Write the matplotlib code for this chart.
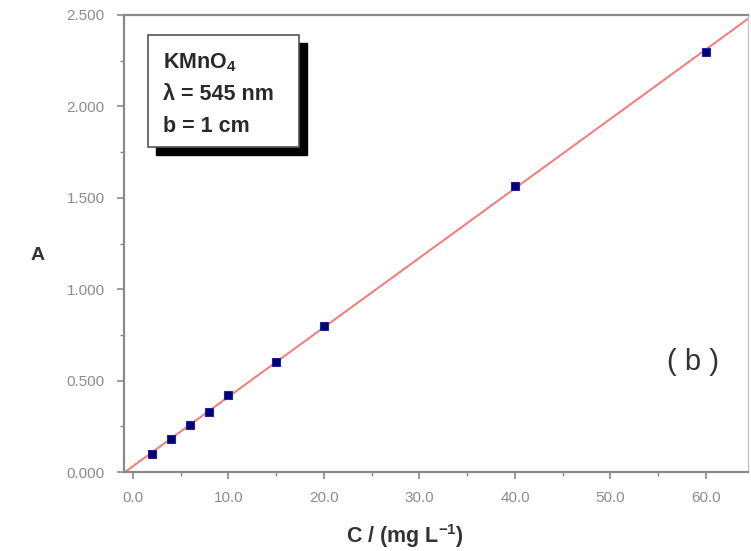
import numpy as np
import matplotlib

matplotlib.use("Agg")
import matplotlib.pyplot as plt
from matplotlib.patches import Rectangle
from matplotlib.ticker import MultipleLocator, FormatStrFormatter

# -----------------------------
# Data (calibration points)
# -----------------------------
conc = [2, 4, 6, 8, 10, 15, 20, 40, 60]
absorb = [0.100, 0.180, 0.257, 0.330, 0.420, 0.603, 0.800, 1.565, 2.300]
box_lines = ["KMnO$_4$", "λ = 545 nm", "b = 1 cm"]

plt.rcParams["font.family"] = ["Liberation Sans", "DejaVu Sans"]
plt.rcParams["mathtext.fontset"] = "custom"
plt.rcParams["mathtext.rm"] = "Liberation Sans:bold"
plt.rcParams["mathtext.bf"] = "Liberation Sans:bold"

W, H = 751, 551
fig = plt.figure(figsize=(W / 100, H / 100), dpi=100)


def px(x, y):
    # pixel position (from top-left) -> figure fraction
    return x / W, 1 - y / H


left, top = px(124, 15)
right, bottom = px(748, 472)
ax = fig.add_axes([left, bottom, right - left, top - bottom])

# -----------------------------
# Linear fit + points
# -----------------------------
slope, icpt = np.polyfit(conc, absorb, 1)
xlim = (-0.94, 64.4)
xs = np.array(xlim)
ax.plot(xs, slope * xs + icpt, color="#f28080", lw=1.5, zorder=2)
ax.plot(conc, absorb, ls="none", marker="s", ms=5.8,
        mfc="#00007a", mec="#2020a0", mew=0.8, zorder=3)

ax.set_xlim(*xlim)
ax.set_ylim(0, 2.5)

ax.xaxis.set_major_locator(MultipleLocator(10))
ax.xaxis.set_minor_locator(MultipleLocator(5))
ax.yaxis.set_major_locator(MultipleLocator(0.5))
ax.yaxis.set_minor_locator(MultipleLocator(0.25))
ax.xaxis.set_major_formatter(FormatStrFormatter("%.1f"))
ax.yaxis.set_major_formatter(FormatStrFormatter("%.3f"))

gray = "#8a8a8a"
for s in ax.spines.values():
    s.set_color(gray)
    s.set_linewidth(1.6)
ax.spines["right"].set_color("#c8c8c8")
ax.spines["right"].set_linewidth(1.0)

ax.tick_params(which="both", direction="out", colors=gray,
               labelcolor="#8c8c8c", labelsize=11)
ax.tick_params(which="major", length=5, width=1.2)
ax.tick_params(axis="x", which="major", pad=9)
ax.tick_params(axis="y", which="major", pad=9)
ax.tick_params(which="minor", length=3, width=1.0)
ax.tick_params(right=False, top=False)

# -----------------------------
# Labels
# -----------------------------
fig.text(*px(38, 256), "A", fontsize=14, fontweight="bold",
         color="#333333", ha="center", va="center")
fig.text(*px(405, 543), r"C / (mg L$^{-1}$)", fontsize=15.5,
         fontweight="bold", color="#333333", ha="center", va="baseline")
fig.text(*px(693, 362), "( b )", fontsize=21, color="#333333",
         ha="center", va="center")

# -----------------------------
# Info box with drop shadow
# -----------------------------
bx0, by1 = px(148, 35)
bx1, by0 = px(299, 147)
sx, sy = 8 / W, 8 / H
fig.patches.append(Rectangle((bx0 + sx, by0 - sy), bx1 - bx0, by1 - by0,
                             transform=fig.transFigure, facecolor="black",
                             edgecolor="black", zorder=5))
fig.patches.append(Rectangle((bx0, by0), bx1 - bx0, by1 - by0,
                             transform=fig.transFigure, facecolor="white",
                             edgecolor="#555555", lw=1.2, zorder=6))
for i, line in enumerate(box_lines):
    fig.text(*px(163, 68 + 32 * i), line, fontsize=15.5, fontweight="bold",
             color="#2a2a2a", ha="left", va="baseline", zorder=7)

plt.savefig("out.png", dpi=100)
plt.close()
